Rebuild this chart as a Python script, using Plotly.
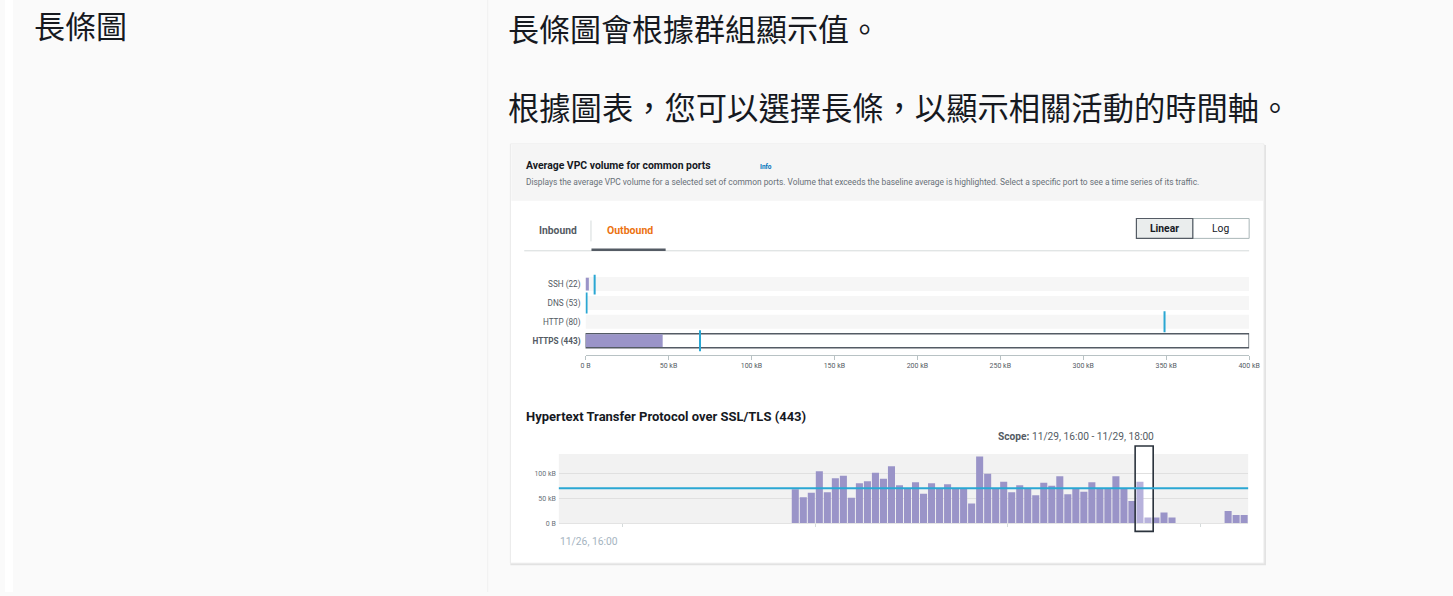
import pandas as pd
import plotly.graph_objects as go

W, H = 1453, 596

# ---------------- data ----------------
ports = ["SSH (22)", "DNS (53)", "HTTP (80)", "HTTPS (443)"]
port_volume_kb = [2, 0, 0, 46.5]
port_baseline_kb = [5.5, 0.6, 349, 69]
top_tick_kb = [0, 50, 100, 150, 200, 250, 300, 350, 400]
top_tick_labels = ["0 B", "50 kB", "100 kB", "150 kB", "200 kB", "250 kB", "300 kB", "350 kB", "400 kB"]

series_start = "2023-11-27 21:00"
hourly_kb = [69, 53, 62, 105, 63, 91, 96, 52, 81, 85, 102, 90, 115, 77, 70, 83, 60, 81, 70, 79,
             70, 70, 40, 135, 100, 70, 84, 63, 77, 70, 57, 82, 76, 95, 59, 70, 64, 83, 70, 70,
             95, 70, 45, 84, 12, 12, 22, 12, 0, 0, 0, 0, 0, 0, 25, 17, 17]
axis_start = "2023-11-26 16:00"
axis_end = "2023-11-30 06:00"
day_ticks = ["2023-11-27", "2023-11-28", "2023-11-29", "2023-11-30"]
scope_start = "2023-11-29 16:00"
scope_end = "2023-11-29 18:00"
baseline_kb = 71
y2_ticks = [0, 50, 100]
y2_labels = ["0 B", "50 kB", "100 kB"]

# ---------------- helpers (window pixels -> paper fractions) ----------------
def fx(x):
    return x / W

def fy(y):
    return 1 - y / H

PURPLE = "#9a94c8"
PURPLE_SEL = "#b7b2dc"
CYAN = "#2aa7d3"
FONT = "Roboto"
CJK = "Noto Sans CJK TC"

times = pd.date_range(series_start, periods=len(hourly_kb), freq="h")
centers = times + pd.Timedelta(minutes=30)
s0, s1 = pd.Timestamp(scope_start), pd.Timestamp(scope_end)
bar_colors = [PURPLE_SEL if s0 <= t < s1 else PURPLE for t in times]

fig = go.Figure()

# top: port tracks
n = len(ports)
fig.add_trace(go.Bar(
    x=[top_tick_kb[-1]] * n, y=list(range(n)), orientation="h", width=0.74,
    marker=dict(color=["#f6f6f6"] * (n - 1) + ["#ffffff"],
                line=dict(color=["rgba(0,0,0,0)"] * (n - 1) + ["#545b64"],
                          width=[0] * (n - 1) + [1.5])),
    hoverinfo="skip", showlegend=False, xaxis="x", yaxis="y"))
fig.add_trace(go.Bar(
    x=port_volume_kb, y=list(range(n)), orientation="h", width=0.68,
    marker=dict(color=PURPLE, line=dict(width=0)),
    showlegend=False, xaxis="x", yaxis="y"))
fig.add_trace(go.Scatter(
    x=port_baseline_kb, y=list(range(n)), mode="markers",
    marker=dict(symbol="line-ns", size=15, line=dict(color=CYAN, width=2)),
    showlegend=False, xaxis="x", yaxis="y"))

# bottom: time series
fig.add_trace(go.Bar(
    x=centers, y=hourly_kb, width=3600000 * 0.88,
    marker=dict(color=bar_colors, line=dict(width=0)),
    showlegend=False, xaxis="x2", yaxis="y2"))

shapes = []
shapes.append(dict(type="rect", xref="paper", yref="paper", x0=0, x1=fx(8), y0=0, y1=1,
                   fillcolor="#ffffff", line=dict(width=0), layer="below"))
shapes.append(dict(type="line", xref="paper", yref="paper", x0=fx(488), x1=fx(488), y0=0, y1=1,
                   line=dict(color="#f0f0f0", width=1), layer="below"))
# card shadow + card
shapes.append(dict(type="rect", xref="paper", yref="paper", x0=fx(511), x1=fx(1275), y0=fy(569), y1=fy(146),
                   fillcolor="#e2e2e2", line=dict(width=0), layer="below"))
shapes.append(dict(type="rect", xref="paper", yref="paper", x0=fx(511), x1=fx(1273), y0=fy(567), y1=fy(145),
                   fillcolor="#ffffff", line=dict(color="#ebebeb", width=1), layer="below"))
shapes.append(dict(type="rect", xref="paper", yref="paper", x0=fx(512), x1=fx(1272), y0=fy(202), y1=fy(146),
                   fillcolor="#f5f5f5", line=dict(width=0), layer="below"))
# tabs
shapes.append(dict(type="line", xref="paper", yref="paper", x0=fx(525), x1=fx(1258), y0=fy(252.5), y1=fy(252.5),
                   line=dict(color="#d5dbdb", width=1), layer="below"))
shapes.append(dict(type="line", xref="paper", yref="paper", x0=fx(593), x1=fx(668), y0=fy(251.5), y1=fy(251.5),
                   line=dict(color="#545b64", width=2.5), layer="below"))
shapes.append(dict(type="line", xref="paper", yref="paper", x0=fx(592.5), x1=fx(592.5), y0=fy(243), y1=fy(222),
                   line=dict(color="#d5dbdb", width=1), layer="below"))
# Linear / Log buttons
shapes.append(dict(type="rect", xref="paper", yref="paper", x0=fx(1201), x1=fx(1258), y0=fy(240), y1=fy(220),
                   fillcolor="#ffffff", line=dict(color="#aab7b8", width=1), layer="below"))
shapes.append(dict(type="rect", xref="paper", yref="paper", x0=fx(1144), x1=fx(1201), y0=fy(240), y1=fy(220),
                   fillcolor="#eaeded", line=dict(color="#545b64", width=1.2), layer="below"))
# bottom plot background
shapes.append(dict(type="rect", xref="x2 domain", yref="y2 domain", x0=0, x1=1, y0=0, y1=1,
                   fillcolor="#f2f2f2", line=dict(width=0), layer="below"))
# scope selection
sx0 = s0 - pd.Timedelta(minutes=6)
sx1 = s1 + pd.Timedelta(minutes=9)
shapes.append(dict(type="rect", xref="x2", yref="y2 domain", x0=sx0, x1=sx1, y0=0, y1=1,
                   fillcolor="#ffffff", line=dict(width=0), layer="below"))
shapes.append(dict(type="rect", xref="x2", yref="paper", x0=sx0, x1=sx1, y0=fy(535), y1=fy(449),
                   fillcolor="rgba(0,0,0,0)", line=dict(color="#2b333d", width=1.6), layer="above"))
# baseline
shapes.append(dict(type="line", xref="x2 domain", yref="y2", x0=0, x1=1, y0=baseline_kb, y1=baseline_kb,
                   line=dict(color=CYAN, width=2), layer="above"))

ann = []
def text(x, y, s, size, color, family=FONT, anchor="left"):
    ann.append(dict(x=fx(x), y=fy(y), xref="paper", yref="paper", text=s, showarrow=False,
                    xanchor=anchor, yanchor="middle", font=dict(size=size, color=color, family=family)))

# documentation text
text(27, 25, "長條圖", 31, "#16191f", CJK)
text(507, 28, "長條圖會根據群組顯示值。", 31, "#16191f", CJK)
text(507, 107, "根據圖表，您可以選擇長條，以顯示相關活動的時間軸。", 31.3, "#16191f", CJK)

# card text
text(525, 167, "<b>Average VPC volume for common ports</b>", 10.4, "#16191f")
text(761, 168.5, "<b>Info</b>", 6.5, "#0073bb")
text(525, 183, "Displays the average VPC volume for a selected set of common ports. Volume that exceeds the baseline average is highlighted. Select a specific port to see a time series of its traffic.",
     8.4, "#687078")
text(559, 232, "<b>Inbound</b>", 10.3, "#545b64", anchor="center")
text(631.5, 232, "<b>Outbound</b>", 10.5, "#ec7211", anchor="center")
text(1172.5, 230, "<b>Linear</b>", 10.3, "#16191f", anchor="center")
text(1229.5, 230, "Log", 10.3, "#16191f", anchor="center")
text(525, 419, "<b>Hypertext Transfer Protocol over SSL/TLS (443)</b>", 13, "#16191f")
text(1083, 439, "<b>Scope:</b> " + "11/29, 16:00 - 11/29, 18:00", 10.2, "#545b64", anchor="center")
text(559, 545, "11/26, 16:00", 10.3, "#a5b4bf")

fig.update_layout(
    width=W, height=H, autosize=False,
    margin=dict(l=0, r=0, t=0, b=0),
    paper_bgcolor="#fafafa", plot_bgcolor="rgba(0,0,0,0)",
    barmode="overlay", bargap=0.1,
    shapes=shapes, annotations=ann,
    xaxis=dict(domain=[fx(587), fx(1258)], anchor="y", range=[0, top_tick_kb[-1]],
               tickvals=top_tick_kb, ticktext=top_tick_labels, showgrid=False, zeroline=False,
               showline=True, linecolor="#b8c2c4", linewidth=1, ticks="outside", ticklen=4,
               tickcolor="#b8c2c4", tickfont=dict(size=7, color="#545b64", family=FONT),
               fixedrange=True),
    yaxis=dict(domain=[fy(357), fy(276.5)], anchor="x", range=[3.5 + 4.5 / 19, -0.5],
               tickvals=list(range(n)),
               ticktext=ports[:-1] + ["<b>" + ports[-1] + "</b>"],
               showgrid=False, zeroline=False, showline=False, ticks="",
               tickfont=dict(size=8.2, color="#545b64", family=FONT), ticklabelstandoff=4,
               fixedrange=True),
    xaxis2=dict(domain=[fx(560), fx(1257)], anchor="y2", type="date",
                range=[axis_start, axis_end], tickvals=day_ticks, ticktext=[""] * len(day_ticks),
                showgrid=False, zeroline=False, showline=True, linecolor="#e3e3e3",
                ticks="outside", ticklen=3, tickcolor="#d5dbdb", fixedrange=True),
    yaxis2=dict(domain=[fy(527), fy(457)], anchor="x2", range=[0, 140],
                tickvals=y2_ticks, ticktext=y2_labels, showgrid=True, gridcolor="#e0e0e0",
                gridwidth=1, zeroline=False, showline=False, ticks="",
                tickfont=dict(size=7, color="#687078", family=FONT), ticklabelstandoff=2,
                fixedrange=True),
    hovermode=False,
)

fig.write_html("out.html", config={"displayModeBar": False},
               post_script="document.body.style.margin='0px';")
